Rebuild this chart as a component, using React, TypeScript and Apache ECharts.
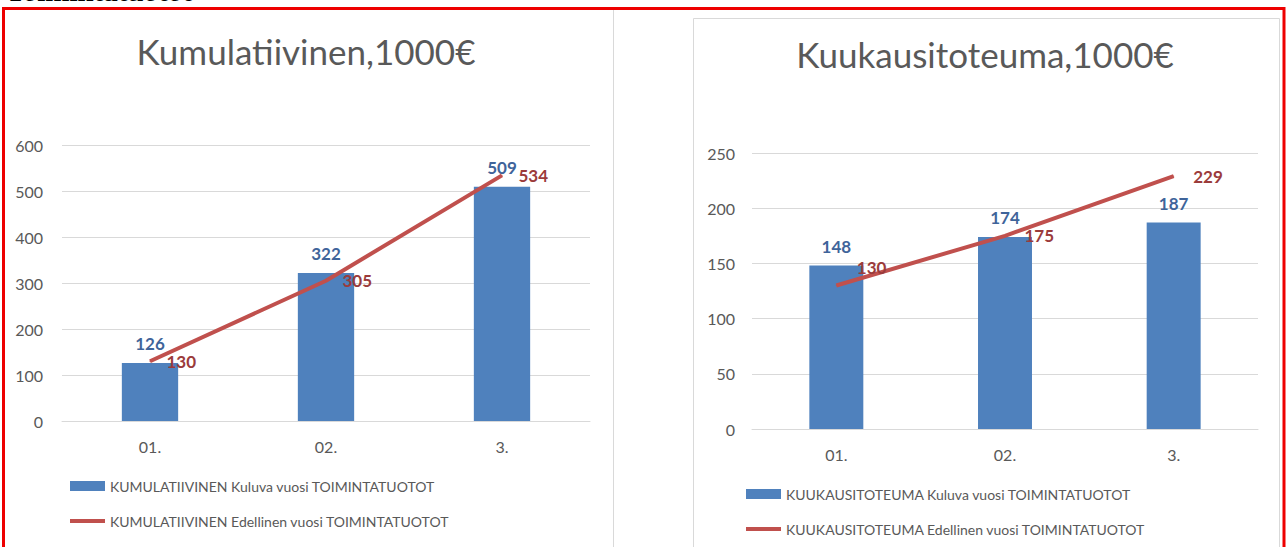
import React, { useEffect, useRef } from "react";
import * as echarts from "echarts";

const categories = ["01.", "02.", "3."];
const cumCurrent = [126, 322, 509];
const cumPrevious = [130, 305, 534];
const monCurrent = [148, 174, 187];
const monPrevious = [130, 175, 229];

const leftTitle = "Kumulatiivinen,1000€";
const rightTitle = "Kuukausitoteuma,1000€";
const cumCurName = "KUMULATIIVINEN Kuluva vuosi TOIMINTATUOTOT";
const cumPrevName = "KUMULATIIVINEN Edellinen vuosi TOIMINTATUOTOT";
const monCurName = "KUUKAUSITOTEUMA Kuluva vuosi TOIMINTATUOTOT";
const monPrevName = "KUUKAUSITOTEUMA Edellinen vuosi TOIMINTATUOTOT";
const pageHeading = "Toimintatuotot";

const FONT = "Lato, 'Open Sans', sans-serif";
const GRAY_TXT = "#595959";
const BLUE = "#4F81BD";
const RED = "#C0504D";
const BLUE_LBL = "#3F649A";
const RED_LBL = "#9B3B3B";

export default function App() {
  const ref = useRef<HTMLDivElement>(null);
  useEffect(() => {
    if (!ref.current) return;
    const chart = echarts.init(ref.current, null, { renderer: "svg" });

    const yAxisCommon = {
      axisLine: { show: false },
      axisTick: { show: false },
      splitLine: { lineStyle: { color: "#D9D9D9", width: 1 } },
      axisLabel: { color: GRAY_TXT, fontSize: 16, fontFamily: FONT },
    };
    const xAxisCommon = {
      type: "category" as const,
      data: categories,
      axisLine: { lineStyle: { color: "#D9D9D9" } },
      axisTick: { show: false },
      axisLabel: { color: GRAY_TXT, fontSize: 16, fontFamily: FONT, margin: 17 },
    };
    const barLabel = {
      show: true,
      position: "top" as const,
      distance: 11,
      color: BLUE_LBL,
      fontWeight: "bold" as const,
      fontSize: 17,
      fontFamily: FONT,
    };
    const lineLabel = {
      show: true,
      position: "right" as const,
      distance: 16,
      color: RED_LBL,
      fontWeight: "bold" as const,
      fontSize: 17,
      fontFamily: FONT,
    };
    const legendCommon = {
      orient: "vertical" as const,
      padding: 0,
      itemWidth: 35,
      textStyle: { color: GRAY_TXT, fontSize: 14, fontFamily: FONT },
    };

    chart.setOption({
      animation: false,
      backgroundColor: "#ffffff",
      title: [
        {
          text: leftTitle,
          left: 301,
          top: 28,
          textAlign: "center",
          textStyle: { color: GRAY_TXT, fontSize: 35, fontWeight: "normal", fontFamily: FONT },
        },
        {
          text: rightTitle,
          left: 980,
          top: 31,
          textAlign: "center",
          textStyle: { color: GRAY_TXT, fontSize: 35, fontWeight: "normal", fontFamily: FONT },
        },
      ],
      legend: [
        { ...legendCommon, left: 70, top: 479, itemHeight: 10, data: [{ name: cumCurName, icon: "rect" }] },
        { ...legendCommon, left: 70, top: 514, itemHeight: 4, data: [{ name: cumPrevName, icon: "rect" }] },
        { ...legendCommon, left: 746, top: 487, itemHeight: 10, data: [{ name: monCurName, icon: "rect" }] },
        { ...legendCommon, left: 746, top: 522, itemHeight: 4, data: [{ name: monPrevName, icon: "rect" }] },
      ],
      grid: [
        { left: 62, top: 145, width: 528, height: 276 },
        { left: 752, top: 153, width: 506, height: 276 },
      ],
      xAxis: [
        { ...xAxisCommon, gridIndex: 0 },
        { ...xAxisCommon, gridIndex: 1 },
      ],
      yAxis: [
        { ...yAxisCommon, type: "value", gridIndex: 0, min: 0, max: 600, interval: 100, axisLabel: { ...yAxisCommon.axisLabel, margin: 19 } },
        { ...yAxisCommon, type: "value", gridIndex: 1, min: 0, max: 250, interval: 50, axisLabel: { ...yAxisCommon.axisLabel, margin: 17 } },
      ],
      series: [
        {
          name: cumCurName,
          type: "bar",
          xAxisIndex: 0,
          yAxisIndex: 0,
          data: cumCurrent,
          barWidth: "32%",
          itemStyle: { color: BLUE },
          label: barLabel,
        },
        {
          name: cumPrevName,
          type: "line",
          xAxisIndex: 0,
          yAxisIndex: 0,
          data: cumPrevious,
          symbol: "circle",
          symbolSize: 1,
          itemStyle: { color: RED },
          lineStyle: { color: RED, width: 4 },
          label: lineLabel,
        },
        {
          name: monCurName,
          type: "bar",
          xAxisIndex: 1,
          yAxisIndex: 1,
          data: monCurrent,
          barWidth: "32%",
          itemStyle: { color: BLUE },
          label: barLabel,
        },
        {
          name: monPrevName,
          type: "line",
          xAxisIndex: 1,
          yAxisIndex: 1,
          data: monPrevious.map((v, i) =>
            i === 0 ? { value: v, label: { offset: [1, -18] } } : v
          ),
          symbol: "circle",
          symbolSize: 1,
          itemStyle: { color: RED },
          lineStyle: { color: RED, width: 4 },
          label: { ...lineLabel, distance: 19 },
        },
      ],
      graphic: [
        {
          type: "text",
          left: 6,
          top: -24,
          z: 10,
          style: {
            text: pageHeading,
            fill: "#000000",
            font: "bold 29px 'Liberation Serif', serif",
          },
        },
        {
          type: "line",
          z: -1,
          shape: { x1: 613.5, y1: 10, x2: 613.5, y2: 547 },
          style: { stroke: "#D9D9D9", lineWidth: 1 },
        },
        {
          type: "rect",
          z: -1,
          shape: { x: 693.5, y: 18.5, width: 586, height: 600 },
          style: { fill: "none", stroke: "#D9D9D9", lineWidth: 1 },
        },
        {
          type: "rect",
          z: 100,
          shape: { x: 3.5, y: 8.5, width: 1280.5, height: 600 },
          style: { fill: "none", stroke: "#EE0000", lineWidth: 3 },
        },
      ],
    });
    return () => chart.dispose();
  }, []);
  return (
    <div
      ref={ref}
      style={{ position: "absolute", left: 0, top: 0, width: 1286, height: 547 }}
    />
  );
}
